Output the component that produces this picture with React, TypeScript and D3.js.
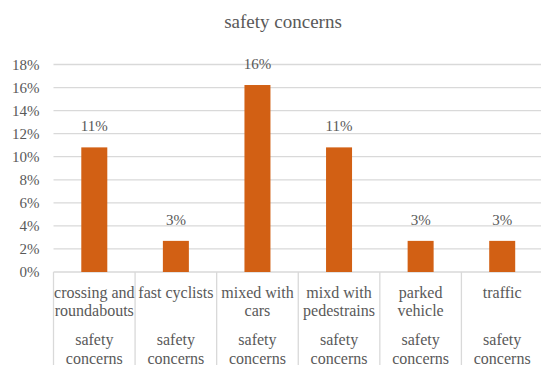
import React from "react";
import * as d3 from "d3";

// Share of responses per safety concern
const categories = [
  ["crossing and", "roundabouts"],
  ["fast cyclists"],
  ["mixed with", "cars"],
  ["mixd with", "pedestrains"],
  ["parked", "vehicle"],
  ["traffic"],
];
const groupLabel = ["safety", "concerns"];
const values = [0.1081, 0.027, 0.1622, 0.1081, 0.027, 0.027];
const yTicks = [0, 0.02, 0.04, 0.06, 0.08, 0.1, 0.12, 0.14, 0.16, 0.18];

const W = 541;
const H = 365;
const left = 53.5;
const right = 543;
const top = 64.5;
const bottom = 272;
const font = "Liberation Serif";
const textColor = "#595959";
const gridColor = "#d9d9d9";
const barColor = "#D26014";

export default function App() {
  const x = d3
    .scaleBand<number>()
    .domain(d3.range(categories.length))
    .range([left, right])
    .paddingInner(0)
    .paddingOuter(0);
  const y = d3.scaleLinear().domain([0, 0.18]).range([bottom, top]);
  const pct = d3.format(".0%");
  const barW = 26;
  const bw = x.bandwidth();
  const ts = { fontFamily: font };

  return (
    <svg
      width={W}
      height={H}
      style={{ position: "absolute", left: 0, top: 0, background: "#fff" }}
    >
      <text x={283} y={28} textAnchor="middle" fontSize={19} fill={textColor} style={ts}>
        safety concerns
      </text>

      {yTicks.map((t) => (
        <g key={t}>
          <line x1={left} x2={W} y1={y(t)} y2={y(t)} stroke={gridColor} strokeWidth={1.3} />
          <text
            x={39.5}
            y={y(t)}
            dy="0.35em"
            textAnchor="end"
            fontSize={15}
            fill={textColor}
            style={ts}
          >
            {pct(t)}
          </text>
        </g>
      ))}

      {values.map((v, i) => {
        const cx = (x(i) as number) + bw / 2;
        return (
          <g key={i}>
            <rect
              x={cx - barW / 2}
              y={y(v)}
              width={barW}
              height={bottom - y(v)}
              fill={barColor}
            />
            <text
              x={cx}
              y={y(v) - 16}
              textAnchor="middle"
              fontSize={15}
              fill={textColor}
              style={ts}
            >
              {pct(v)}
            </text>
          </g>
        );
      })}

      {d3.range(categories.length + 1).map((i) => {
        const xx = left + i * bw;
        return (
          <line key={i} x1={xx} x2={xx} y1={bottom} y2={H} stroke={gridColor} strokeWidth={1.3} />
        );
      })}

      {categories.map((lines, i) => {
        const cx = (x(i) as number) + bw / 2;
        return (
          <g key={i}>
            {lines.map((s, j) => (
              <text
                key={j}
                x={cx}
                y={292.5 + j * 18}
                dy="0.35em"
                textAnchor="middle"
                fontSize={16}
                fill={textColor}
                style={ts}
              >
                {s}
              </text>
            ))}
            {groupLabel.map((s, j) => (
              <text
                key={"g" + j}
                x={cx}
                y={339.5 + j * 19}
                dy="0.35em"
                textAnchor="middle"
                fontSize={16}
                fill={textColor}
                style={ts}
              >
                {s}
              </text>
            ))}
          </g>
        );
      })}
    </svg>
  );
}
